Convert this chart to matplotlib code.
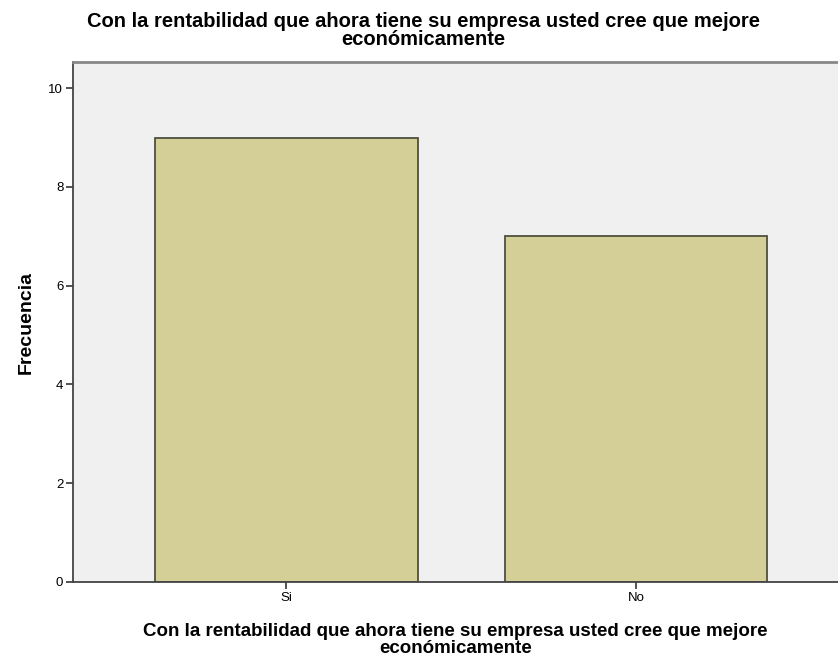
import matplotlib
matplotlib.use('Agg')
import matplotlib.pyplot as plt
import numpy as np

# datos
categorias = ['Si', 'No']
frecuencias = [9, 7]
titulo = 'Con la rentabilidad que ahora tiene su empresa usted cree que mejore\neconómicamente'

plt.rcParams['font.family'] = ['Liberation Sans', 'DejaVu Sans']

fig = plt.figure(figsize=(8.38, 6.64), dpi=100)
ax = fig.add_axes([0.0871, 0.1235, 0.9129, 0.7831])
ax.set_facecolor('#f0f0f0')

x = np.arange(len(categorias))
ax.bar(x, frecuencias, width=0.75, color='#d3cf97', edgecolor='#4f4f40', linewidth=1.3)

ax.set_xlim(-0.61, 1.577)
ax.set_ylim(0, 10.53)
ax.set_yticks([0, 2, 4, 6, 8, 10])
ax.set_xticks(x)
ax.set_xticklabels(categorias)
ax.tick_params(axis='both', labelsize=9.5, length=5, width=1.2, color='#333333', pad=2)

ax.spines['right'].set_visible(False)
ax.spines['top'].set_color('#888888')
ax.spines['top'].set_linewidth(2)
for s in ['left', 'bottom']:
    ax.spines[s].set_color('#444444')
    ax.spines[s].set_linewidth(1.3)

fig.text(0.505, 0.982, titulo, ha='center', va='top', fontsize=14.5, fontweight='bold', linespacing=0.95)
ax.set_xlabel(titulo, fontsize=13.5, fontweight='bold', labelpad=14, linespacing=0.95)
ax.set_ylabel('Frecuencia', fontsize=14, fontweight='bold', labelpad=10)

fig.savefig('out.png', dpi=100)
